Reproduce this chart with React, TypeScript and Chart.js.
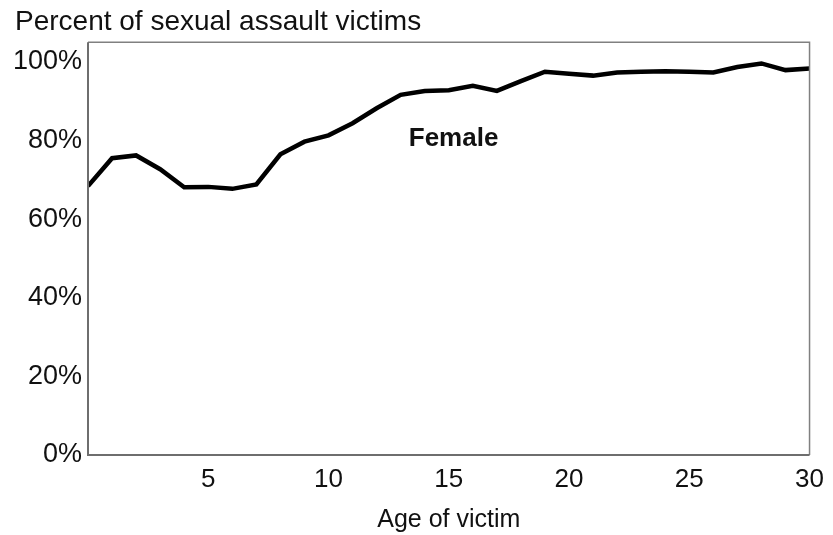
import React, { useEffect, useRef } from "react";
import { Chart, registerables } from "chart.js";

Chart.register(...registerables);

const ages = [0, 1, 2, 3, 4, 5, 6, 7, 8, 9, 10, 11, 12, 13, 14, 15, 16, 17, 18, 19, 20, 21, 22, 23, 24, 25, 26, 27, 28, 29, 30];
const femalePercent = [68.4, 75.5, 76.2, 72.7, 68.1, 68.2, 67.7, 68.8, 76.5, 79.7, 81.3, 84.4, 88.2, 91.6, 92.6, 92.8, 93.9, 92.6, 95.1, 97.5, 97.0, 96.5, 97.3, 97.5, 97.6, 97.5, 97.3, 98.7, 99.6, 97.9, 98.3];
const xTicks = [5, 10, 15, 20, 25, 30];
const yTicks = [0, 20, 40, 60, 80, 100];
const seriesLabel = "Female";
const chartTitle = "Percent of sexual assault victims";
const xAxisTitle = "Age of victim";

const FONT = "'Liberation Sans', Arial, sans-serif";

const frameAndLabel = {
  id: "frameAndLabel",
  afterDraw(chart: any) {
    const { ctx, chartArea, scales } = chart;
    ctx.save();
    ctx.strokeStyle = "#808080";
    ctx.lineWidth = 1.5;
    ctx.beginPath();
    ctx.moveTo(chartArea.left, chartArea.top);
    ctx.lineTo(chartArea.right, chartArea.top);
    ctx.lineTo(chartArea.right, chartArea.bottom);
    ctx.stroke();
    ctx.strokeStyle = "#6e6e6e";
    ctx.lineWidth = 2;
    ctx.beginPath();
    ctx.moveTo(chartArea.left, chartArea.top);
    ctx.lineTo(chartArea.left, chartArea.bottom);
    ctx.lineTo(chartArea.right, chartArea.bottom);
    ctx.stroke();
    const px = scales.x.getPixelForValue(15.2);
    const py = scales.y.getPixelForValue(80.3);
    ctx.fillStyle = "#111";
    ctx.font = `bold 26px ${FONT}`;
    ctx.textAlign = "center";
    ctx.textBaseline = "middle";
    ctx.fillText(seriesLabel, px, py);
    ctx.restore();
  },
};

export default function App() {
  const ref = useRef<HTMLCanvasElement>(null);
  useEffect(() => {
    if (!ref.current) return;
    const chart = new Chart(ref.current, {
      type: "line",
      data: {
        datasets: [
          {
            label: seriesLabel,
            data: ages.map((a, i) => ({ x: a, y: femalePercent[i] })),
            borderColor: "#000",
            borderWidth: 4.5,
            pointRadius: 0,
            tension: 0,
            fill: false,
          },
        ],
      },
      options: {
        animation: false,
        responsive: false,
        maintainAspectRatio: false,
        layout: { padding: { left: 15, right: 23, top: 0, bottom: 0 } },
        plugins: {
          legend: { display: false },
          tooltip: { enabled: false },
          title: {
            display: true,
            text: chartTitle,
            align: "start",
            color: "#111",
            font: { family: FONT, size: 28, weight: "normal", lineHeight: 1.15 },
            padding: { top: 6, bottom: 4 },
          },
        },
        scales: {
          x: {
            type: "linear",
            min: 0,
            max: 30,
            grid: { display: false, drawTicks: false },
            border: { display: false },
            afterBuildTicks: (s: any) => {
              s.ticks = xTicks.map((v) => ({ value: v }));
            },
            afterFit: (s: any) => {
              s.height = 80;
            },
            ticks: {
              color: "#111",
              font: { family: FONT, size: 26 },
              padding: 9,
              maxRotation: 0,
            },
            title: {
              display: true,
              text: xAxisTitle,
              color: "#111",
              font: { family: FONT, size: 25 },
              padding: { top: 0, bottom: 0 },
            },
          },
          y: {
            type: "linear",
            min: 0,
            max: 105,
            grid: { display: false, drawTicks: false },
            border: { display: false },
            afterBuildTicks: (s: any) => {
              s.ticks = yTicks.map((v) => ({ value: v }));
            },
            afterFit: (s: any) => {
              s.width = 73;
            },
            ticks: {
              color: "#111",
              font: { family: FONT, size: 27 },
              padding: 6,
              callback: (v: any) => `${v}%`,
            },
          },
        },
      },
      plugins: [frameAndLabel],
    });
    return () => chart.destroy();
  }, []);
  return (
    <div style={{ position: "absolute", left: 0, top: 0, width: 833, height: 535, background: "#fff" }}>
      <canvas ref={ref} width={833} height={535} style={{ width: 833, height: 535 }} />
    </div>
  );
}
